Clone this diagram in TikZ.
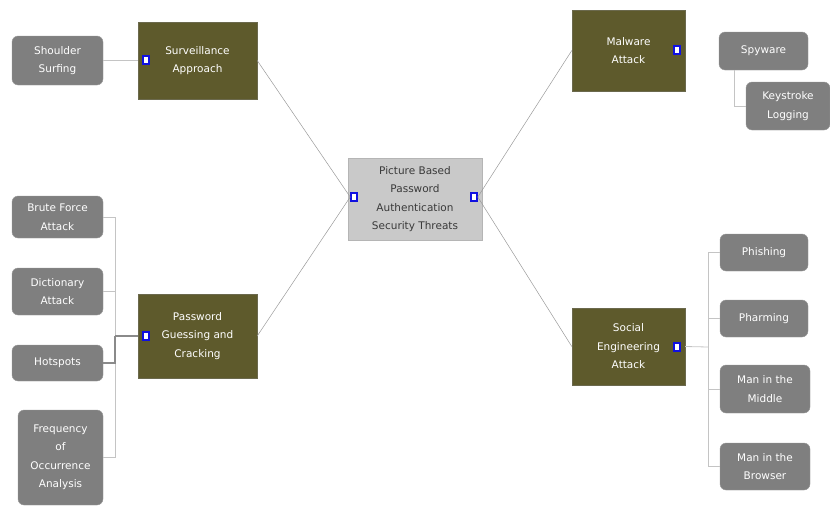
\documentclass[tikz,border=0pt]{standalone}
\usepackage{fontspec}
\setmainfont{DejaVu Sans}
\begin{document}
\begin{tikzpicture}[x=1pt,y=-1pt,
  txt/.style={font=\fontsize{10.5}{18.5}\selectfont, align=center, inner sep=2pt},
  olivebox/.style={txt, rectangle, fill=olivec, draw=olivec!60!gray, text=white},
  childbox/.style={txt, rectangle, rounded corners=6pt, fill=childc, draw=childc!80!white, text=white},
  rootbox/.style={txt, rectangle, fill=rootc, draw=rootc!90!black, text=roottext},
  marker/.style={rectangle, draw=markc, fill=white, line width=1.6pt, minimum width=6pt, minimum height=8pt, inner sep=0pt},
  link/.style={draw=linkc, line width=0.5pt},
  tree/.style={draw=treec, line width=0.8pt},
  trunk/.style={draw=trunkc, line width=1.5pt}
]
\definecolor{olivec}{HTML}{5E5A2C}
\definecolor{childc}{HTML}{7F7F7F}
\definecolor{rootc}{HTML}{C9C9C9}
\definecolor{roottext}{HTML}{3A3A3A}
\definecolor{markc}{HTML}{1010E0}
\definecolor{linkc}{HTML}{9A9A9A}
\definecolor{treec}{HTML}{C4C4C4}
\definecolor{trunkc}{HTML}{8A8A8A}
\useasboundingbox (0,0) rectangle (830,506);

% root
\node[rootbox, minimum width=134pt, minimum height=82pt] (root) at (415,199) {Picture Based\\Password\\Authentication\\Security Threats};
\node[marker] (mrl) at (354,197) {};
\node[marker] (mrr) at (474,197) {};

% main branches
\node[olivebox, minimum width=119pt, minimum height=77pt] (surv) at (197.5,60.5) {Surveillance\\Approach};
\node[olivebox, minimum width=119pt, minimum height=84pt] (pass) at (197.5,336) {Password\\Guessing and\\Cracking};
\node[olivebox, minimum width=113pt, minimum height=81pt] (mal) at (628.5,50.5) {Malware\\Attack};
\node[olivebox, minimum width=113pt, minimum height=77pt] (soc) at (628.5,346.5) {Social\\Engineering\\Attack};

\node[marker] (ms) at (146,60) {};
\node[marker] (mp) at (146,336) {};
\node[marker] (mm) at (677,50) {};
\node[marker] (mso) at (677,347) {};

% children
\node[childbox, minimum width=91pt, minimum height=49pt] (shoulder) at (57.5,60.5) {Shoulder\\Surfing};
\node[childbox, minimum width=91pt, minimum height=42pt] (brute) at (57.5,217) {Brute Force\\Attack};
\node[childbox, minimum width=91pt, minimum height=47pt] (dict) at (57.5,291.5) {Dictionary\\Attack};
\node[childbox, minimum width=91pt, minimum height=36pt] (hot) at (57.5,363) {Hotspots};
\node[childbox, minimum width=85pt, minimum height=95pt] (freq) at (60.5,457.5) {Frequency\\of\\Occurrence\\Analysis};

\node[childbox, minimum width=89pt, minimum height=38pt] (spy) at (763.5,51) {Spyware};
\node[childbox, minimum width=84pt, minimum height=48pt] (key) at (788,106) {Keystroke\\Logging};

\node[childbox, minimum width=88pt, minimum height=37pt] (phish) at (764,252.5) {Phishing};
\node[childbox, minimum width=88pt, minimum height=37pt] (pharm) at (764,318.5) {Pharming};
\node[childbox, minimum width=90pt, minimum height=48pt] (mitm) at (765,389) {Man in the\\Middle};
\node[childbox, minimum width=90pt, minimum height=47pt] (mitb) at (765,466.5) {Man in the\\Browser};

% links from root
\draw[link] (surv.east) -- (mrl.west);
\draw[link] (pass.east) -- (mrl.west);
\draw[link] (mal.west) -- (mrr.east);
\draw[link] (soc.west) -- (mrr.east);

% left trees
\draw[tree] (shoulder.east) -- (surv.west);
\coordinate (tl) at (115,336);
\draw[tree] (brute.east) -| (tl);
\draw[tree] (dict.east) -| (tl);
\draw[tree] (freq.east) -| (tl);
\draw[trunk] (hot.east) -| (tl);
\draw[trunk] (tl) -- (pass.west);

% right trees
\coordinate (tr) at (708,347);
\draw[tree] (soc.east) -- (tr);
\draw[tree] (tr) |- (phish.west);
\draw[tree] (tr) |- (pharm.west);
\draw[tree] (tr) |- (mitm.west);
\draw[tree] (tr) |- (mitb.west);
\draw[tree] (spy.south west) ++(16,0) coordinate (sb) |- (key.west);
\end{tikzpicture}
\end{document}
